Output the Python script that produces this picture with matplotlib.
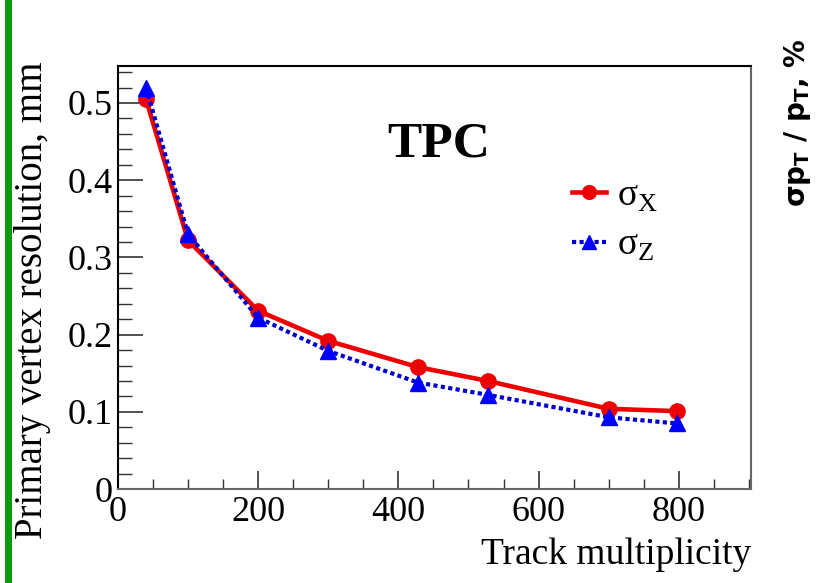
import matplotlib
matplotlib.use('Agg')
import matplotlib.pyplot as plt
from matplotlib.patches import Rectangle
from matplotlib.ticker import MultipleLocator

plt.rcParams['font.family'] = ['Liberation Serif', 'DejaVu Serif']
plt.rcParams['mathtext.fontset'] = 'custom'
plt.rcParams['mathtext.rm'] = 'Liberation Serif'

# data
mult_x = [40, 100, 200, 300, 428, 528, 700, 798]
sigma_x = [0.505, 0.322, 0.231, 0.192, 0.158, 0.140, 0.104, 0.101]
mult_z = [40, 100, 200, 300, 428, 528, 700, 798]
sigma_z = [0.520, 0.330, 0.222, 0.179, 0.138, 0.122, 0.093, 0.085]

fig = plt.figure(figsize=(8.19, 5.83), dpi=100)
ax = fig.add_axes([0.144, 0.161, 0.773, 0.726])

ax.plot(mult_x, sigma_x, color='#ee0000', lw=3.3, marker='o', ms=11,
        label='σ$_\\mathregular{X}$')
ax.plot(mult_z, sigma_z, color='#0000cc', lw=3, ls=(0, (1, 0.8)), marker='^',
        ms=11, markerfacecolor='#0000ff', markeredgecolor='#0000ff',
        label='σ$_\\mathregular{Z}$')

ax.set_xlim(0, 903)
ax.set_ylim(0, 0.548)
ax.xaxis.set_major_locator(MultipleLocator(200))
ax.xaxis.set_minor_locator(MultipleLocator(50))
ax.yaxis.set_major_locator(MultipleLocator(0.1))
ax.yaxis.set_minor_locator(MultipleLocator(0.02))
ax.set_xticks([0, 200, 400, 600, 800])
ax.set_xticklabels(['0', '200', '400', '600', '800'])
ax.set_yticks([0, 0.1, 0.2, 0.3, 0.4, 0.5])
ax.set_yticklabels(['0', '0.1', '0.2', '0.3', '0.4', '0.5'])

ax.tick_params(which='both', direction='in', labelsize=26, color='#333333')
ax.tick_params(which='major', length=13, width=1.2)
ax.tick_params(which='minor', length=7, width=1.0)
ax.tick_params(axis='y', which='major', length=18, pad=4)
ax.tick_params(axis='y', which='minor', length=10)
ax.tick_params(axis='x', pad=5)
for s in ['left', 'top']:
    ax.spines[s].set_color('black')
for s in ['right', 'bottom']:
    ax.spines[s].set_color('#666666')
for s in ax.spines.values():
    s.set_linewidth(1.5)

ax.set_xlabel('Track multiplicity', fontsize=27, loc='right')
ax.xaxis.set_label_coords(1.0, -0.115)
ax.set_ylabel('Primary vertex resolution, mm', fontsize=28, loc='top')
ax.yaxis.set_label_coords(-0.105, 1.01)

ax.text(0.506, 0.815, 'TPC', transform=ax.transAxes, fontsize=37,
        fontweight='bold', ha='center', va='center')

ax.legend(loc='upper left', bbox_to_anchor=(0.717, 0.733), frameon=False,
          fontsize=27, handlelength=0.9, handletextpad=0.3, labelspacing=0.4,
          borderpad=0, borderaxespad=0, markerscale=0.9)

# green bar on the left and the cut-off neighbour label on the right
fig.add_artist(Rectangle((5 / 819, 0), 7 / 819, 1, transform=fig.transFigure,
                         color='#0a9a0a', lw=0))
fig.text(0.974, 0.79, 'σp$_\\mathregular{T}$ / p$_\\mathregular{T}$, %',
         family='DejaVu Sans', fontweight='bold', fontsize=20, rotation=90,
         ha='center', va='center')

fig.savefig('out.png', dpi=100)
